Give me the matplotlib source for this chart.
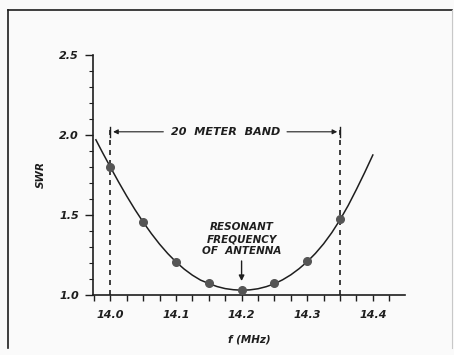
import matplotlib
matplotlib.use("Agg")
import numpy as np
import matplotlib.pyplot as plt
from matplotlib.lines import Line2D
from matplotlib.ticker import MultipleLocator

# measured points (dots)
freq = [14.0, 14.05, 14.1, 14.15, 14.2, 14.25, 14.3, 14.35]
swr = [1.80, 1.455, 1.207, 1.075, 1.03, 1.072, 1.21, 1.475]

# curve
curve_f = [13.978, 13.9875, 14.0, 14.0125, 14.025, 14.0375, 14.05, 14.0625, 14.075,
           14.0875, 14.1, 14.1125, 14.125, 14.1375, 14.15, 14.1625, 14.175, 14.1875,
           14.2, 14.2125, 14.225, 14.2375, 14.25, 14.2625, 14.275, 14.2875, 14.3,
           14.3125, 14.325, 14.3375, 14.35, 14.3625, 14.375, 14.3875, 14.4]
curve_s = [1.97, 1.895, 1.80, 1.707, 1.618, 1.534, 1.456, 1.384, 1.318,
           1.259, 1.207, 1.162, 1.124, 1.093, 1.072, 1.053, 1.040, 1.033,
           1.030, 1.032, 1.039, 1.052, 1.070, 1.095, 1.126, 1.164, 1.208,
           1.26, 1.32, 1.39, 1.47, 1.56, 1.66, 1.765, 1.875]

band = [14.0, 14.35]
resonant = 14.2
xtick_vals = [14.0, 14.1, 14.2, 14.3, 14.4]
xtick_labels = ["14.0", "14.1", "14.2", "14.3", "14.4"]
ytick_vals = [1.0, 1.5, 2.0, 2.5]
ytick_labels = ["1.0", "1.5", "2.0", "2.5"]

ink = "#1e1e1e"
bg = "#fafafa"

fig = plt.figure(figsize=(4.54, 3.55), dpi=100, facecolor=bg)
ax = fig.add_axes([93 / 454, 1 - 295 / 355, 312 / 454, 240 / 355])
ax.set_facecolor(bg)

# border of the figure box
fig.add_artist(Line2D([8 / 454, 452 / 454], [1 - 10 / 355, 1 - 10 / 355], color=ink, lw=1.2))
fig.add_artist(Line2D([8 / 454, 8 / 454], [1 - 10 / 355, 1 - 348 / 355], color=ink, lw=1.2))
fig.add_artist(Line2D([452 / 454, 452 / 454], [1 - 10 / 355, 1 - 348 / 355], color="#c8c8c8", lw=0.8))

ax.plot(curve_f, curve_s, color=ink, lw=1.1, solid_joinstyle="round")
ax.plot(freq, swr, "o", color="#555555", ms=5.5, zorder=3)

# band edges
for b in band:
    ax.plot([b, b], [1.0, 2.03], color=ink, lw=1.2, ls=(0, (3, 3)))
    ax.plot([b, b], [1.99, 2.05], color=ink, lw=1.0)
mid = (band[0] + band[1]) / 2
ax.text(mid, 2.02, "20  METER  BAND", ha="center", va="center", fontsize=8,
        style="italic", weight="bold", color=ink, bbox=dict(fc=bg, ec="none", pad=1))
ax.annotate("", xy=(band[0], 2.02), xytext=(14.085, 2.02),
            arrowprops=dict(arrowstyle="-|>", color=ink, lw=0.8, mutation_scale=7))
ax.annotate("", xy=(band[1], 2.02), xytext=(14.265, 2.02),
            arrowprops=dict(arrowstyle="-|>", color=ink, lw=0.8, mutation_scale=7))

ax.text(resonant, 1.35, "RESONANT\nFREQUENCY\nOF  ANTENNA", ha="center", va="center",
        fontsize=7.5, style="italic", weight="bold", color=ink, linespacing=1.3)
ax.annotate("", xy=(resonant, 1.07), xytext=(resonant, 1.23),
            arrowprops=dict(arrowstyle="-|>", color=ink, lw=1.0, mutation_scale=8))

ax.set_xlim(13.9736, 14.449)
ax.set_ylim(1.0, 2.5)
ax.spines["top"].set_visible(False)
ax.spines["right"].set_visible(False)
ax.spines["left"].set_color(ink)
ax.spines["bottom"].set_color(ink)
ax.spines["left"].set_linewidth(1.2)
ax.spines["bottom"].set_linewidth(1.2)

ax.set_xticks(xtick_vals)
ax.set_xticklabels(xtick_labels, style="italic", weight="bold", fontsize=8, color=ink)
ax.xaxis.set_minor_locator(MultipleLocator(0.025))
ax.set_yticks(ytick_vals)
ax.set_yticklabels(ytick_labels, style="italic", weight="bold", fontsize=8, color=ink)
ax.yaxis.set_minor_locator(MultipleLocator(0.1))
ax.tick_params(axis="x", which="both", direction="out", length=4, width=1, color=ink, pad=7)
ax.tick_params(axis="y", which="major", direction="out", length=6, width=1, color=ink, pad=4)
ax.tick_params(axis="y", which="minor", direction="out", length=3, width=0.8, color=ink)

ax.set_xlabel("f (MHz)", style="italic", weight="bold", fontsize=7.5, color=ink, labelpad=10)
ax.set_ylabel("SWR", style="italic", weight="bold", fontsize=7.5, color=ink, labelpad=10)

fig.savefig("out.png", dpi=100, facecolor=bg)
